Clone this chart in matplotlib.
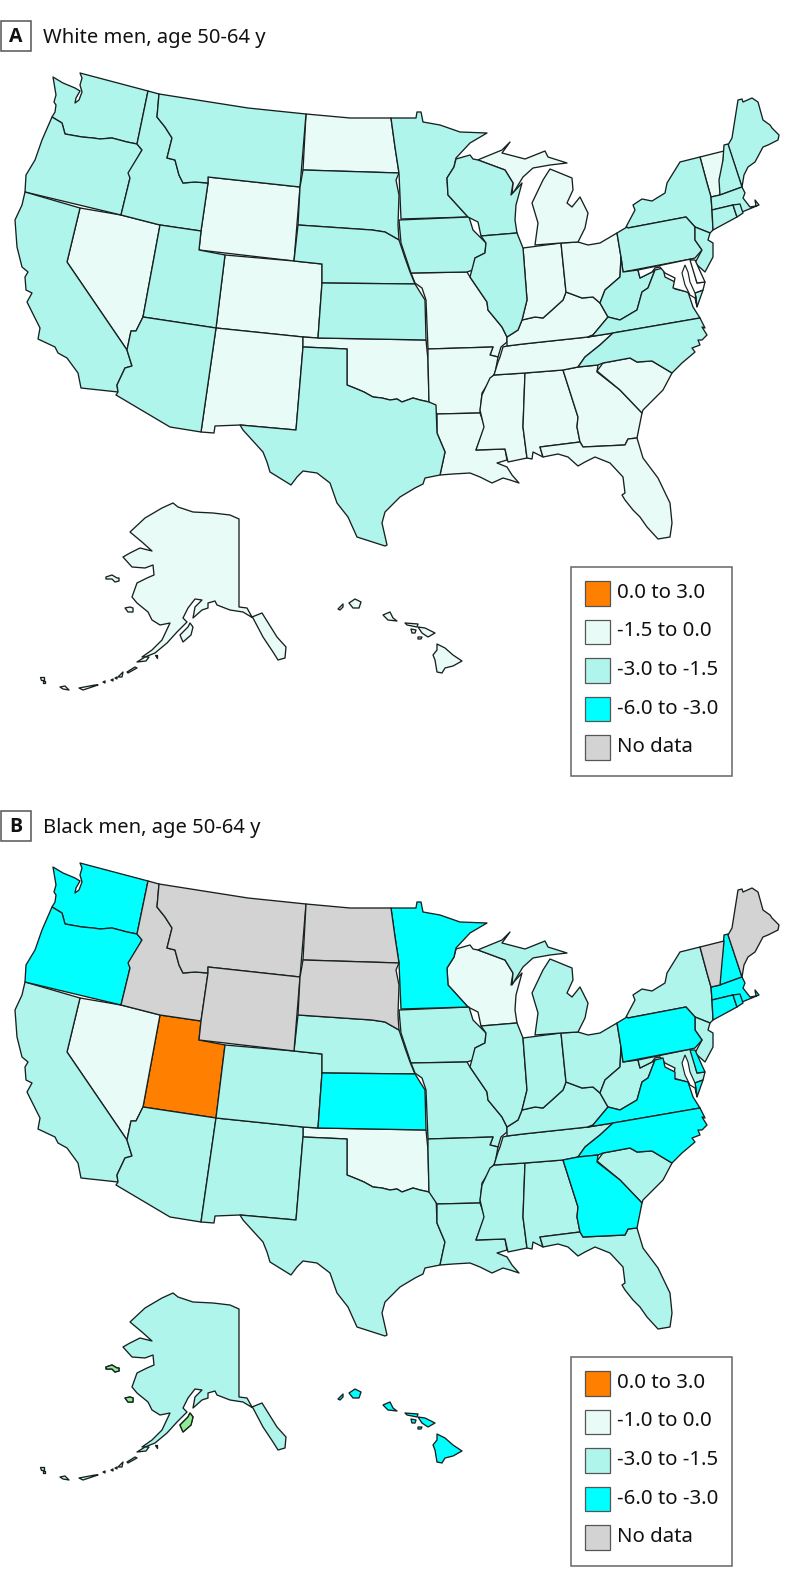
import matplotlib
matplotlib.use('Agg')
import matplotlib.pyplot as plt
from matplotlib.patches import Polygon, Rectangle

plt.rcParams['font.family'] = ['Noto Sans', 'DejaVu Sans']

# outlines, in pixels of the upper panel
WA = [(80,73),(148,91),(137,144),(127,142),(112,138),(100,139),(93,138),(82,137),(65,134),(62,123),(52,117),(55,112),(56,105),(54,102),(56,95),(53,77),(63,83),(75,88),(80,91),(76,98),(75,103),(79,100),(82,92),(80,85),(82,78)]
OR = [(52,117),(62,123),(65,134),(82,137),(93,138),(100,139),(112,138),(127,142),(137,144),(142,150),(130,172),(130,178),(121,215),(25,192),(26,175),(35,160),(42,140)]
CA = [(25,192),(80,208),(67,262),(127,350),(132,366),(125,368),(117,385),(118,392),(81,388),(78,373),(67,358),(58,353),(55,347),(38,339),(40,328),(37,322),(27,302),(32,293),(26,290),(25,277),(28,272),(22,267),(17,247),(15,220),(22,205)]
NV = [(80,208),(121,215),(160,225),(143,317),(136,331),(131,331),(127,350),(67,262)]
ID = [(148,91),(159,94),(157,117),(165,127),(172,138),(167,158),(175,160),(179,175),(183,183),(195,182),(208,183),(201,231),(160,225),(121,215),(130,178),(128,173),(142,150),(137,144)]
MT = [(159,94),(248,108),(306,114),(300,187),(208,177),(208,183),(195,182),(183,183),(179,175),(175,160),(167,158),(172,138),(165,127),(157,117)]
WY = [(208,177),(300,187),(294,261),(199,250),(201,231),(208,183)]
ND = [(306,114),(350,118),(391,118),(395,147),(399,173),(303,170)]
SD = [(303,170),(399,173),(396,180),(399,195),(398,225),(399,240),(385,232),(372,230),(298,225),(300,187)]
NE = [(298,225),(372,230),(385,232),(399,240),(405,258),(410,272),(415,284),(322,283),(322,264),(294,261)]
CO = [(225,255),(294,261),(322,264),(322,283),(318,338),(303,337),(216,328)]
UT = [(160,225),(201,231),(199,250),(225,255),(216,328),(143,317)]
AZ = [(143,317),(216,328),(201,432),(170,427),(116,395),(118,392),(117,385),(125,368),(132,366),(127,350),(131,331),(136,331)]
NM = [(216,328),(303,337),(303,347),(296,430),(240,425),(215,426),(214,433),(201,432)]
KS = [(322,283),(415,284),(420,292),(425,300),(426,340),(318,338)]
OK = [(303,337),(318,338),(426,340),(428,360),(429,402),(420,400),(413,398),(402,402),(397,399),(390,400),(382,398),(373,397),(364,392),(357,389),(347,385),(347,349),(303,347)]
TX = [(303,347),(347,349),(347,385),(357,389),(364,392),(373,397),(382,398),(390,400),(397,399),(402,402),(413,398),(420,400),(429,402),(436,405),(437,433),(445,452),(440,475),(425,478),(423,484),(415,488),(400,497),(397,500),(385,512),(382,523),(387,545),(385,546),(357,537),(348,517),(337,503),(330,483),(317,473),(303,471),(297,477),(291,485),(270,472),(267,462),(263,452),(243,430),(240,425),(296,430)]
MN = [(391,118),(416,118),(417,112),(421,112),(423,122),(440,125),(460,132),(487,133),(470,143),(456,158),(454,167),(447,178),(448,195),(468,217),(401,219),(399,173),(395,147)]
WI = [(456,159),(470,155),(473,159),(478,160),(505,170),(513,183),(511,195),(522,183),(516,205),(515,220),(517,233),(481,236),(478,222),(468,217),(448,195),(447,178),(454,167)]
IA = [(399,220),(469,217),(473,230),(486,243),(485,253),(475,258),(473,270),(467,272),(411,273),(401,243)]
IL = [(481,236),(517,233),(523,248),(527,300),(522,320),(518,330),(507,337),(502,327),(488,310),(487,302),(470,277),(475,258),(485,253),(486,243)]
MO = [(411,273),(467,272),(470,277),(487,302),(488,310),(502,327),(507,337),(507,342),(501,347),(498,357),(490,355),(493,347),(428,349),(426,300),(422,288),(415,283)]
AR = [(428,349),(493,347),(490,355),(498,357),(495,373),(482,393),(480,413),(437,414),(429,402),(428,360)]
LA = [(437,414),(480,413),(485,427),(481,437),(476,450),(505,449),(507,460),(497,463),(507,467),(512,475),(519,483),(510,480),(503,478),(492,483),(480,477),(470,473),(453,474),(440,475),(445,452),(437,433)]
MS = [(494,375),(525,373),(523,427),(527,458),(508,462),(505,449),(476,450),(484,427),(480,410),(482,395),(490,378)]
AL = [(525,373),(563,370),(578,417),(577,427),(580,442),(540,447),(543,457),(533,452),(532,459),(527,458),(523,427)]
GA = [(563,370),(578,367),(598,365),(597,372),(620,390),(642,413),(637,438),(628,439),(625,445),(583,447),(580,442),(577,427),(578,417)]
SC = [(597,371),(603,363),(630,358),(637,362),(652,361),(672,373),(663,390),(643,410),(642,413),(620,390)]
FL = [(540,447),(580,442),(583,447),(625,445),(628,439),(637,438),(643,458),(658,478),(670,503),(672,523),(670,537),(658,539),(647,527),(640,517),(633,510),(625,500),(622,495),(625,493),(623,477),(610,463),(595,457),(585,462),(578,466),(568,457),(558,454),(543,457)]
TN = [(507,346),(523,344),(588,337),(613,333),(600,345),(585,357),(578,367),(563,370),(525,373),(494,375),(498,362),(500,357),(503,347)]
NC = [(613,333),(700,318),(705,328),(702,327),(707,335),(702,340),(698,340),(700,345),(692,348),(695,352),(682,363),(672,373),(652,361),(637,362),(630,358),(603,363),(598,365),(578,367),(585,357),(600,345)]
VA = [(588,337),(593,335),(608,317),(620,320),(637,310),(642,292),(648,288),(655,270),(663,268),(665,277),(675,282),(675,289),(688,292),(693,307),(700,318),(613,333)]
VA_SHORE = [(703,290),(697,307),(696,298),(695,293)]
WV = [(621,257),(623,272),(638,270),(640,278),(652,272),(655,270),(648,288),(642,292),(637,310),(620,320),(608,317),(600,303),(605,290),(620,277)]
PA = [(617,233),(627,227),(628,228),(686,217),(695,227),(695,240),(702,250),(695,258),(691,259),(623,272),(621,257)]
OH = [(561,243),(578,242),(588,245),(600,243),(617,233),(621,257),(620,277),(605,290),(600,303),(593,297),(582,298),(566,292)]
IN = [(523,248),(561,243),(566,292),(563,300),(552,310),(543,318),(535,317),(522,320),(527,300)]
KY = [(522,320),(535,317),(543,318),(552,310),(563,300),(566,292),(582,298),(593,297),(600,303),(608,317),(593,335),(588,337),(523,344),(507,346),(507,342),(507,337),(518,330)]
MI_LOWER = [(535,245),(538,223),(532,203),(543,180),(550,169),(572,178),(573,190),(567,203),(572,207),(580,197),(588,213),(585,228),(578,242),(561,243)]
MI_UPPER = [(480,159),(502,150),(510,142),(502,153),(525,159),(545,151),(548,157),(567,163),(550,165),(533,168),(523,177),(512,195),(513,183),(505,170),(478,160)]
NY = [(626,227),(635,210),(633,205),(642,199),(652,201),(665,193),(667,183),(680,162),(700,157),(707,183),(711,197),(712,210),(713,230),(710,233),(695,227),(686,217),(628,228)]
VT = [(700,157),(724,151),(720,195),(711,197),(707,183)]
NH = [(724,145),(728,144),(742,187),(720,195),(719,180),(723,160)]
ME = [(728,145),(732,138),(738,100),(742,99),(743,102),(752,98),(758,102),(763,120),(770,125),(772,128),(779,135),(778,140),(768,145),(763,147),(755,162),(748,167),(744,175),(742,187)]
MA = [(711,197),(720,195),(742,187),(745,193),(743,198),(750,207),(756,206),(755,200),(759,205),(742,212),(733,205),(712,210)]
CT = [(712,210),(733,205),(737,217),(713,230)]
RI = [(733,205),(740,204),(743,213),(737,217)]
NJ = [(695,227),(710,233),(708,240),(713,243),(713,257),(705,272),(695,263),(702,250),(695,240)]
DE = [(690,260),(695,260),(705,282),(697,283)]
MD = [(638,270),(691,259),(697,283),(705,282),(703,290),(695,293),(696,298),(687,292),(680,290),(673,288),(675,278),(665,273),(660,267),(655,268),(652,272),(640,278)]
BAY = [(685,265),(682,273),(685,285),(690,295),(695,298),(697,307),(695,293),(690,282),(688,272)]

AK = [(173,503),(178,507),(193,512),(213,513),(230,515),(239,519),(239,607),(247,608),(252,617),(262,613),(277,637),(286,647),(285,658),(278,660),(273,652),(263,637),(253,618),(243,612),(230,610),(217,605),(215,601),(208,603),(208,608),(202,610),(193,618),(195,607),(202,600),(195,599),(188,608),(183,618),(187,622),(177,632),(167,643),(155,653),(145,657),(142,657),(152,650),(162,640),(170,623),(160,625),(152,620),(148,612),(137,603),(132,597),(137,583),(147,578),(154,575),(153,565),(145,568),(132,567),(123,557),(130,553),(140,548),(152,551),(142,542),(130,532),(145,518),(162,508)]
AK_LAWRENCE = [(106,577),(112,575),(117,578),(119,578),(119,581),(115,582),(112,579),(106,579)]
AK_NUNIVAK = [(125,608),(130,607),(133,608),(133,612),(128,612)]
AK_KODIAK = [(180,635),(188,627),(190,623),(193,627),(191,635),(183,642)]
AK_CHAIN = [
    [(137,662),(145,657),(149,657),(146,661)],
    [(127,672),(135,667),(137,668),(128,673)],
    [(118,677),(123,672),(122,677)],
    [(79,688),(95,685),(98,685),(83,690)],
    [(60,687),(65,686),(69,690),(63,689)],
    [(40,677),(44,677),(44,680),(41,680)],
    [(43,681),(45,681),(45,683),(43,683)],
    [(103,682),(105,681),(105,683)],
    [(111,680),(113,679),(113,681)],
    [(115,678),(117,677),(117,679)],
    [(155,655),(157,655),(157,658)],
]

HI_BIG = [(437,644),(445,648),(453,655),(462,661),(453,666),(445,668),(442,673),(437,672),(435,660),(433,655),(437,650)]
HI_MAUI = [(418,627),(425,628),(435,633),(428,637),(422,633)]
HI_MOLOKAI = [(405,623),(418,624),(417,627),(407,625)]
HI_LANAI = [(411,629),(416,630),(415,633),(412,633)]
HI_KAHOOLAWE = [(418,637),(422,637),(421,639),(418,639)]
HI_OAHU = [(383,615),(390,612),(393,618),(397,621),(388,620)]
HI_KAUAI = [(349,603),(355,599),(361,602),(359,608),(353,608)]
HI_NIIHAU = [(338,609),(343,604),(343,607),(340,610)]

# state groups per panel
orange_a = []
light_a = ['NV','WY','CO','NM','ND','OK','MO','AR','LA','MS','AL','GA','SC','FL','TN','KY','IN','OH','MI_LOWER','MI_UPPER','VT','AK','HI']
mint_a = ['WA','OR','CA','ID','MT','UT','AZ','TX','SD','NE','KS','MN','IA','WI','IL','NY','PA','NJ','WV','VA','VA_SHORE','NC','ME','NH','MA','CT','RI']
cyan_a = []
gray_a = []
blank_a = ['MD','DE']

orange_b = ['UT']
light_b = ['NV','OK','WI']
mint_b = ['CA','AZ','NM','CO','NE','TX','IA','MO','AR','LA','MS','AL','FL','SC','TN','KY','IL','IN','OH','MI_LOWER','MI_UPPER','WV','NY','NJ','MD','AK']
cyan_b = ['WA','OR','MN','KS','PA','VA','VA_SHORE','NC','GA','NH','MA','CT','RI','DE','HI']
gray_b = ['ID','MT','WY','ND','SD','VT','ME']

legend_a = ['0.0 to 3.0', '-1.5 to 0.0', '-3.0 to -1.5', '-6.0 to -3.0', 'No data']
legend_b = ['0.0 to 3.0', '-1.0 to 0.0', '-3.0 to -1.5', '-6.0 to -3.0', 'No data']

ORANGE = '#ff7f00'
LIGHT = '#e9fbf7'
MINT = '#b0f5ec'
CYAN = '#00ffff'
GRAY = '#d3d3d3'
GREEN = '#90ee90'
LINE = '#182020'

shapes = {
    'WA':[WA],'OR':[OR],'CA':[CA],'NV':[NV],'ID':[ID],'MT':[MT],'WY':[WY],'ND':[ND],'SD':[SD],'NE':[NE],
    'CO':[CO],'UT':[UT],'AZ':[AZ],'NM':[NM],'KS':[KS],'OK':[OK],'TX':[TX],'MN':[MN],'WI':[WI],'IA':[IA],
    'IL':[IL],'MO':[MO],'AR':[AR],'LA':[LA],'MS':[MS],'AL':[AL],'GA':[GA],'SC':[SC],'FL':[FL],'TN':[TN],
    'NC':[NC],'VA':[VA],'VA_SHORE':[VA_SHORE],'WV':[WV],'PA':[PA],'OH':[OH],'IN':[IN],'KY':[KY],
    'MI_LOWER':[MI_LOWER],'MI_UPPER':[MI_UPPER],'NY':[NY],'VT':[VT],'NH':[NH],'ME':[ME],'MA':[MA],'CT':[CT],
    'RI':[RI],'NJ':[NJ],'MD':[MD],'DE':[DE],
    'AK':[AK,AK_LAWRENCE,AK_NUNIVAK,AK_KODIAK]+AK_CHAIN,
    'HI':[HI_BIG,HI_MAUI,HI_MOLOKAI,HI_LANAI,HI_KAHOOLAWE,HI_OAHU,HI_KAUAI,HI_NIIHAU],
}


def draw_panel(ax, letter, title, groups, labels, ak_islands=None):
    ax.axis('off')
    # badge and title
    ax.add_patch(Rectangle((0.5, 21), 30, 30, fc='white', ec='#555555', lw=1.1))
    ax.text(15.5, 36.5, letter, ha='center', va='center', fontsize=14, fontweight='bold',
            family=['Open Sans', 'DejaVu Sans'], color='#111111')
    ax.text(43, 37.5, title, ha='left', va='center', fontsize=14.5, color='#111111')

    for names, color in groups:
        for name in names:
            for poly in shapes[name]:
                ax.add_patch(Polygon(poly, closed=True, fc=color, ec=LINE, lw=0.95, joinstyle='round'))
    ax.add_patch(Polygon(BAY, closed=True, fc='white', ec=LINE, lw=0.85))
    if ak_islands is not None:
        for poly in [AK_LAWRENCE, AK_NUNIVAK, AK_KODIAK]:
            ax.add_patch(Polygon(poly, closed=True, fc=ak_islands, ec=LINE, lw=0.95))

    # legend box
    ax.add_patch(Rectangle((571, 567), 161, 209, fc='white', ec='#666666', lw=1.1))
    colors = [ORANGE, LIGHT, MINT, CYAN, GRAY]
    for i, (c, lab) in enumerate(zip(colors, labels)):
        y = 581 + i * 38.5
        ax.add_patch(Rectangle((585, y), 25, 24.5, fc=c, ec='#555555', lw=0.9))
        ax.text(617, y + 12, lab, ha='left', va='center', fontsize=14.7, color='#111111')


def main():
    fig = plt.figure(figsize=(7.94, 15.88), dpi=100)

    ax_a = fig.add_axes([0, 0.5, 1, 0.5])
    ax_a.set_xlim(0, 794)
    ax_a.set_ylim(794, 0)
    groups_a = [(orange_a, ORANGE), (light_a, LIGHT), (mint_a, MINT), (cyan_a, CYAN), (gray_a, GRAY), (blank_a, 'white')]
    draw_panel(ax_a, 'A', 'White men, age 50-64 y', groups_a, legend_a)

    # lower panel is the same drawing moved down 790 px
    ax_b = fig.add_axes([0, 0, 1, 798 / 1588])
    ax_b.set_xlim(0, 794)
    ax_b.set_ylim(798, 0)
    groups_b = [(orange_b, ORANGE), (light_b, LIGHT), (mint_b, MINT), (cyan_b, CYAN), (gray_b, GRAY)]
    draw_panel(ax_b, 'B', 'Black men, age 50-64 y', groups_b, legend_b, ak_islands=GREEN)

    fig.savefig('out.png', dpi=100)


if __name__ == '__main__':
    main()
